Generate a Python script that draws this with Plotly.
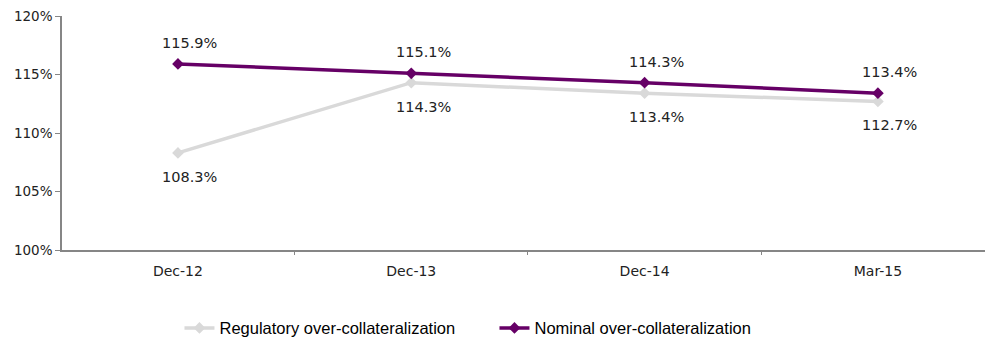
import plotly.graph_objects as go

# Over-collateralization ratios by reporting date (percent)
periods = ["Dec-12", "Dec-13", "Dec-14", "Mar-15"]
regulatory = [108.3, 114.3, 113.4, 112.7]
nominal = [115.9, 115.1, 114.3, 113.4]

y_ticks = [100, 105, 110, 115, 120]

GREY = "#d9d9d9"
PURPLE = "#660066"
AXIS = "#868686"
TEXT = "#222222"

fig = go.Figure()

fig.add_trace(go.Scatter(
    x=periods, y=regulatory, name="Regulatory over-collateralization",
    mode="lines+markers",
    line=dict(color=GREY, width=3.5),
    marker=dict(symbol="diamond", size=9, color=GREY),
))
fig.add_trace(go.Scatter(
    x=periods, y=nominal, name="Nominal over-collateralization",
    mode="lines+markers",
    line=dict(color=PURPLE, width=3.5),
    marker=dict(symbol="diamond", size=9, color=PURPLE),
))

# Value labels: nominal above its point, regulatory below
label_font = dict(family="DejaVu Sans", size=14.5, color=TEXT)
for p, v in zip(periods, nominal):
    fig.add_annotation(x=p, y=v, text=f"{v:.1f}%", showarrow=False,
                       xshift=12, yshift=21, font=label_font)
for p, v in zip(periods, regulatory):
    fig.add_annotation(x=p, y=v, text=f"{v:.1f}%", showarrow=False,
                       xshift=12, yshift=-24, font=label_font)

fig.update_layout(
    width=985, height=339,
    margin=dict(l=62, r=0, t=16, b=89),
    paper_bgcolor="white", plot_bgcolor="white",
    showlegend=True,
    legend=dict(
        orientation="h",
        xref="container", yref="container",
        x=0.502, xanchor="center", y=0.032, yanchor="middle",
        font=dict(family="Liberation Sans", size=16.5, color="#000000"),
        itemwidth=30,
        entrywidth=270, entrywidthmode="pixels",
    ),
)

fig.update_xaxes(
    type="category", range=[-0.497, 3.459],
    showline=True, linecolor=AXIS, linewidth=1.5,
    showgrid=False, zeroline=False,
    ticks="outside", tickson="boundaries", ticklen=3, tickcolor=AXIS,
    ticklabelstandoff=7,
    tickfont=dict(family="DejaVu Sans", size=14, color=TEXT),
)
fig.update_yaxes(
    range=[100, 120], tickvals=y_ticks,
    ticktext=[f"{t}%" for t in y_ticks],
    showline=True, linecolor=AXIS, linewidth=1.5,
    showgrid=False, zeroline=False,
    ticks="outside", ticklen=5, tickcolor=AXIS,
    tickfont=dict(family="DejaVu Sans", size=13.5, color=TEXT),
)

fig.write_html("out.html")
